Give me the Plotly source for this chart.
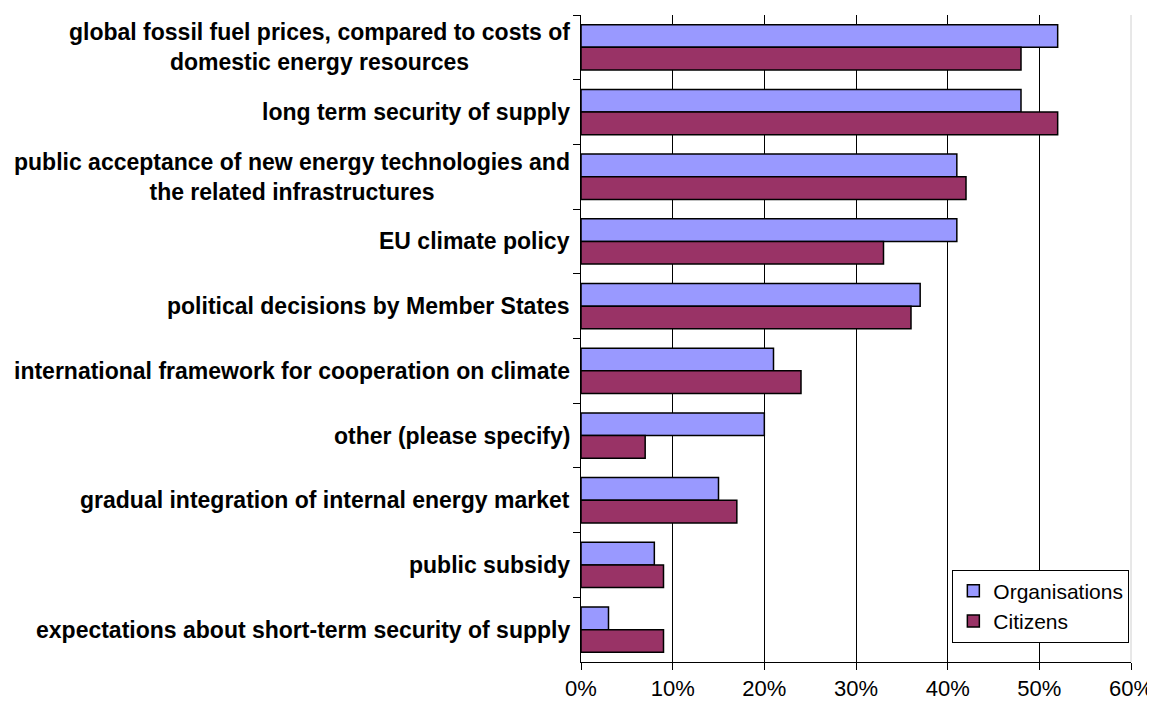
import plotly.graph_objects as go

categories = [
    "global fossil fuel prices, compared to costs of<br>domestic energy resources",
    "long term security of supply",
    "public acceptance of new energy technologies and<br>the related infrastructures",
    "EU climate policy",
    "political decisions by Member States",
    "international framework for cooperation on climate",
    "other (please specify)",
    "gradual integration of internal energy market",
    "public subsidy",
    "expectations about short-term security of supply",
]
organisations = [0.52, 0.48, 0.41, 0.41, 0.37, 0.21, 0.20, 0.15, 0.08, 0.03]
citizens = [0.48, 0.52, 0.42, 0.33, 0.36, 0.24, 0.07, 0.17, 0.09, 0.09]
x_ticks = [0, 0.1, 0.2, 0.3, 0.4, 0.5, 0.6]
x_tick_labels = ["0%", "10%", "20%", "30%", "40%", "50%", "60%"]

FONT = "Liberation Sans, Arial, sans-serif"

fig = go.Figure()
fig.add_trace(go.Bar(
    y=categories, x=organisations, name="Organisations", orientation="h",
    marker=dict(color="#9999FF", line=dict(color="black", width=1.5)),
))
fig.add_trace(go.Bar(
    y=categories, x=citizens, name="Citizens", orientation="h",
    marker=dict(color="#993366", line=dict(color="black", width=1.5)),
))

# category labels (centered multi-line, like the original)
for c in categories:
    fig.add_annotation(
        x=0, y=c, xref="paper", yref="y", text=c, showarrow=False,
        xanchor="right", yanchor="middle", align="center", xshift=-9,
        font=dict(family=FONT, size=23, color="black", weight="bold"),
    )

# page body has an 8px margin: offset compensated
fig.update_layout(
    width=1147, height=697,
    margin=dict(l=573, r=24, t=7, b=43, autoexpand=False),
    paper_bgcolor="white", plot_bgcolor="white",
    barmode="group", bargap=0.30, bargroupgap=0,
    font=dict(family=FONT, size=22, color="black"),
    showlegend=True,
    legend=dict(
        x=0.997, y=0.03, xanchor="right", yanchor="bottom",
        bgcolor="white", bordercolor="black", borderwidth=1,
        font=dict(size=21), traceorder="normal",
        itemwidth=30, tracegroupgap=0,
    ),
)
fig.update_xaxes(
    range=[0, 0.6], tickvals=x_ticks, ticktext=x_tick_labels,
    showgrid=True, gridcolor="black", gridwidth=1,
    showline=True, linecolor="black", linewidth=1,
    ticks="outside", ticklen=7, tickcolor="black",
    zeroline=False, tickfont=dict(size=22),
    ticklabelstandoff=0, ticklabeloverflow="allow", automargin=False,
)
fig.update_yaxes(
    autorange="reversed", type="category",
    showline=True, linecolor="black", linewidth=1,
    ticks="outside", ticklen=7, tickcolor="black", tickson="boundaries",
    showgrid=False, showticklabels=False, automargin=False,
)
fig.add_shape(type="line", xref="paper", yref="paper", x0=1, x1=1, y0=0, y1=1,
              line=dict(color="#D0D0D0", width=1))

fig.write_html("out.html")
